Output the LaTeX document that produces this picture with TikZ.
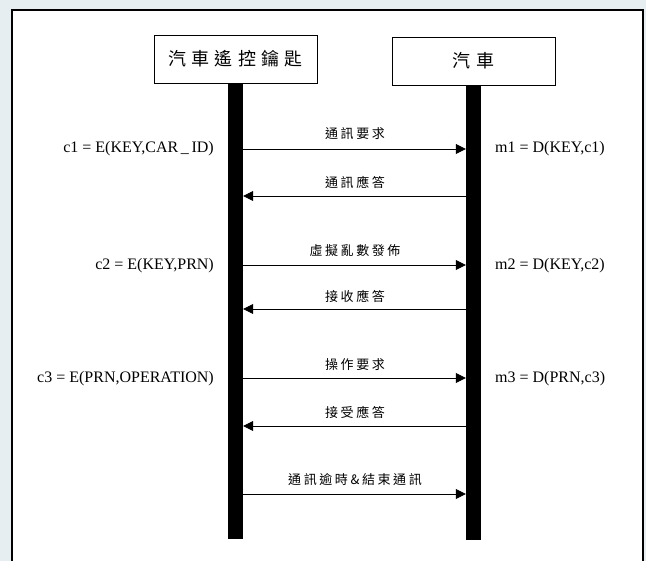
\documentclass[tikz,border=0pt]{standalone}
\usepackage{fontspec}
\setmainfont{Liberation Serif}
\newfontfamily\cjk{Noto Sans CJK TC}[LetterSpace=20]
\newfontfamily\cjktitle{Noto Sans CJK TC}[LetterSpace=28]
\usetikzlibrary{arrows.meta}
\definecolor{bgblue}{HTML}{E6EEF1}
\begin{document}
\begin{tikzpicture}[x=1pt,y=-1pt,
  actor/.style={draw=black,line width=0.8pt,fill=white,inner sep=0pt,minimum width=163pt,minimum height=48pt,font=\cjktitle\fontsize{18}{20}\selectfont},
  lifeline/.style={fill=black,inner sep=0pt,minimum width=15pt},
  msg/.style={line width=0.8pt,-{Triangle[length=10pt,width=10pt]}},
  lab/.style={font=\cjk\fontsize{13}{14}\selectfont,inner sep=0pt},
  formula/.style={font=\fontsize{16}{18}\selectfont,inner sep=0pt}]
\useasboundingbox (0,0) rectangle (646,561);
\clip (0,0) rectangle (646,561);
\fill[bgblue] (0,0) rectangle (646,561);
\draw[line width=2pt,fill=white] (12,10) rectangle (643,580);

% actors
\node[actor] (A) at (235.5,59) {汽車遙控鑰匙};
\node[actor] (B) at (473.5,61) {汽車};
% lifelines
\node[lifeline,minimum height=456pt] (L) at (235.5,311) {};
\node[lifeline,minimum height=455pt] (R) at (473.5,312.5) {};

% message rows
\coordinate (a1) at (0,149);
\coordinate (a2) at (0,196);
\coordinate (a3) at (0,265);
\coordinate (a4) at (0,309);
\coordinate (a5) at (0,378);
\coordinate (a6) at (0,426);
\coordinate (a7) at (0,494);

\draw[msg] (L.east |- a1) -- (R.west |- a1);
\draw[msg] (R.west |- a2) -- (L.east |- a2);
\draw[msg] (L.east |- a3) -- (R.west |- a3);
\draw[msg] (R.west |- a4) -- (L.east |- a4);
\draw[msg] (L.east |- a5) -- (R.west |- a5);
\draw[msg] (R.west |- a6) -- (L.east |- a6);
\draw[msg] (L.east |- a7) -- (R.west |- a7);

% message labels
\node[lab] (t1) at (355,134) {通訊要求};
\node[lab] (t2) at (355,182) {通訊應答};
\node[lab] (t3) at (355,251) {虛擬亂數發佈};
\node[lab] (t4) at (355,296) {接收應答};
\node[lab] (t5) at (355,365) {操作要求};
\node[lab] (t6) at (355,412) {接受應答};
\node[lab] (t7) at (355,480) {通訊逾時\&結束通訊};

% formulas
\node[formula,anchor=east] (f1) at (214,149) {c1 = E(KEY,CAR\,\_\,ID)};
\node[formula,anchor=east] (f2) at (214,266) {c2 = E(KEY,PRN)};
\node[formula,anchor=east] (f3) at (214,379) {c3 = E(PRN,OPERATION)};
\node[formula,anchor=west] (g1) at (495,149) {m1 = D(KEY,c1)};
\node[formula,anchor=west] (g2) at (495,266) {m2 = D(KEY,c2)};
\node[formula,anchor=west] (g3) at (495,379) {m3 = D(PRN,c3)};
\end{tikzpicture}
\end{document}
